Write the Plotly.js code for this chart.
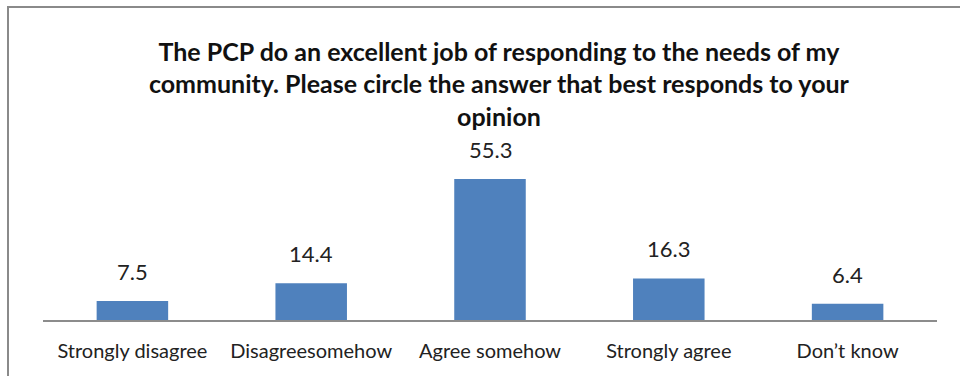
<!DOCTYPE html>
<html>
<head>
<meta charset="utf-8">
<script src="https://cdn.plot.ly/plotly-3.0.1.min.js"></script>
<style>html,body{margin:0;padding:0;background:#fff;}#chart{width:960px;height:376px;}</style>
</head>
<body>
<div id="chart"></div>
<script>
const categories = ["Strongly disagree", "Disagreesomehow", "Agree somehow", "Strongly agree", "Don\u2019t know"];
const values = [7.5, 14.4, 55.3, 16.3, 6.4];
const labels = ["7.5", "14.4", "55.3", "16.3", "6.4"];
const titleText = "The PCP do an excellent job of responding to the needs of my<br>community. Please circle the answer that best responds to your<br>opinion";

const FONT = "Lato, 'Open Sans', sans-serif";

const trace = {
  type: "bar",
  x: categories,
  y: values,
  marker: {color: "#4F81BD", line: {width: 0}},
  hoverinfo: "none"
};

const annotations = categories.map((c, i) => ({
  x: c, y: values[i], xref: "x", yref: "y",
  text: labels[i], showarrow: false,
  yanchor: "bottom", yshift: 14,
  font: {family: FONT, size: 22, color: "#222"}
}));

const L = 43, R = 23, T = 167, B = 56;
const pw = 960 - L - R, ph = 376 - T - B;

const layout = {
  width: 960, height: 376,
  margin: {l: L, r: R, t: T, b: B, pad: 0},
  paper_bgcolor: "#fff", plot_bgcolor: "#fff",
  showlegend: false,
  bargap: 0.6,
  title: {
    text: titleText,
    font: {family: FONT, size: 25, color: "#111", weight: "bold"},
    x: 0.51, xanchor: "center", xref: "paper",
    y: 0.839, yanchor: "top", yref: "container"
  },
  xaxis: {
    type: "category",
    showgrid: false, zeroline: false,
    showline: true, linecolor: "#8c8c8c", linewidth: 2,
    ticks: "", ticklen: 0,
    ticklabelstandoff: 12,
    tickfont: {family: FONT, size: 20, color: "#222"},
    automargin: false, fixedrange: true
  },
  yaxis: {
    range: [0, 60],
    visible: false, showgrid: false, zeroline: false,
    fixedrange: true
  },
  annotations: annotations,
  shapes: [{
    type: "rect", xref: "paper", yref: "paper",
    x0: (8 - L) / pw, x1: (963 - L) / pw,
    y0: (376 - B - 380) / ph, y1: (376 - B - 7) / ph,
    line: {color: "#8a8a8a", width: 2}, fillcolor: "rgba(0,0,0,0)", layer: "below"
  }]
};

Plotly.newPlot("chart", [trace], layout, {displayModeBar: false, staticPlot: true});
</script>
</body>
</html>
